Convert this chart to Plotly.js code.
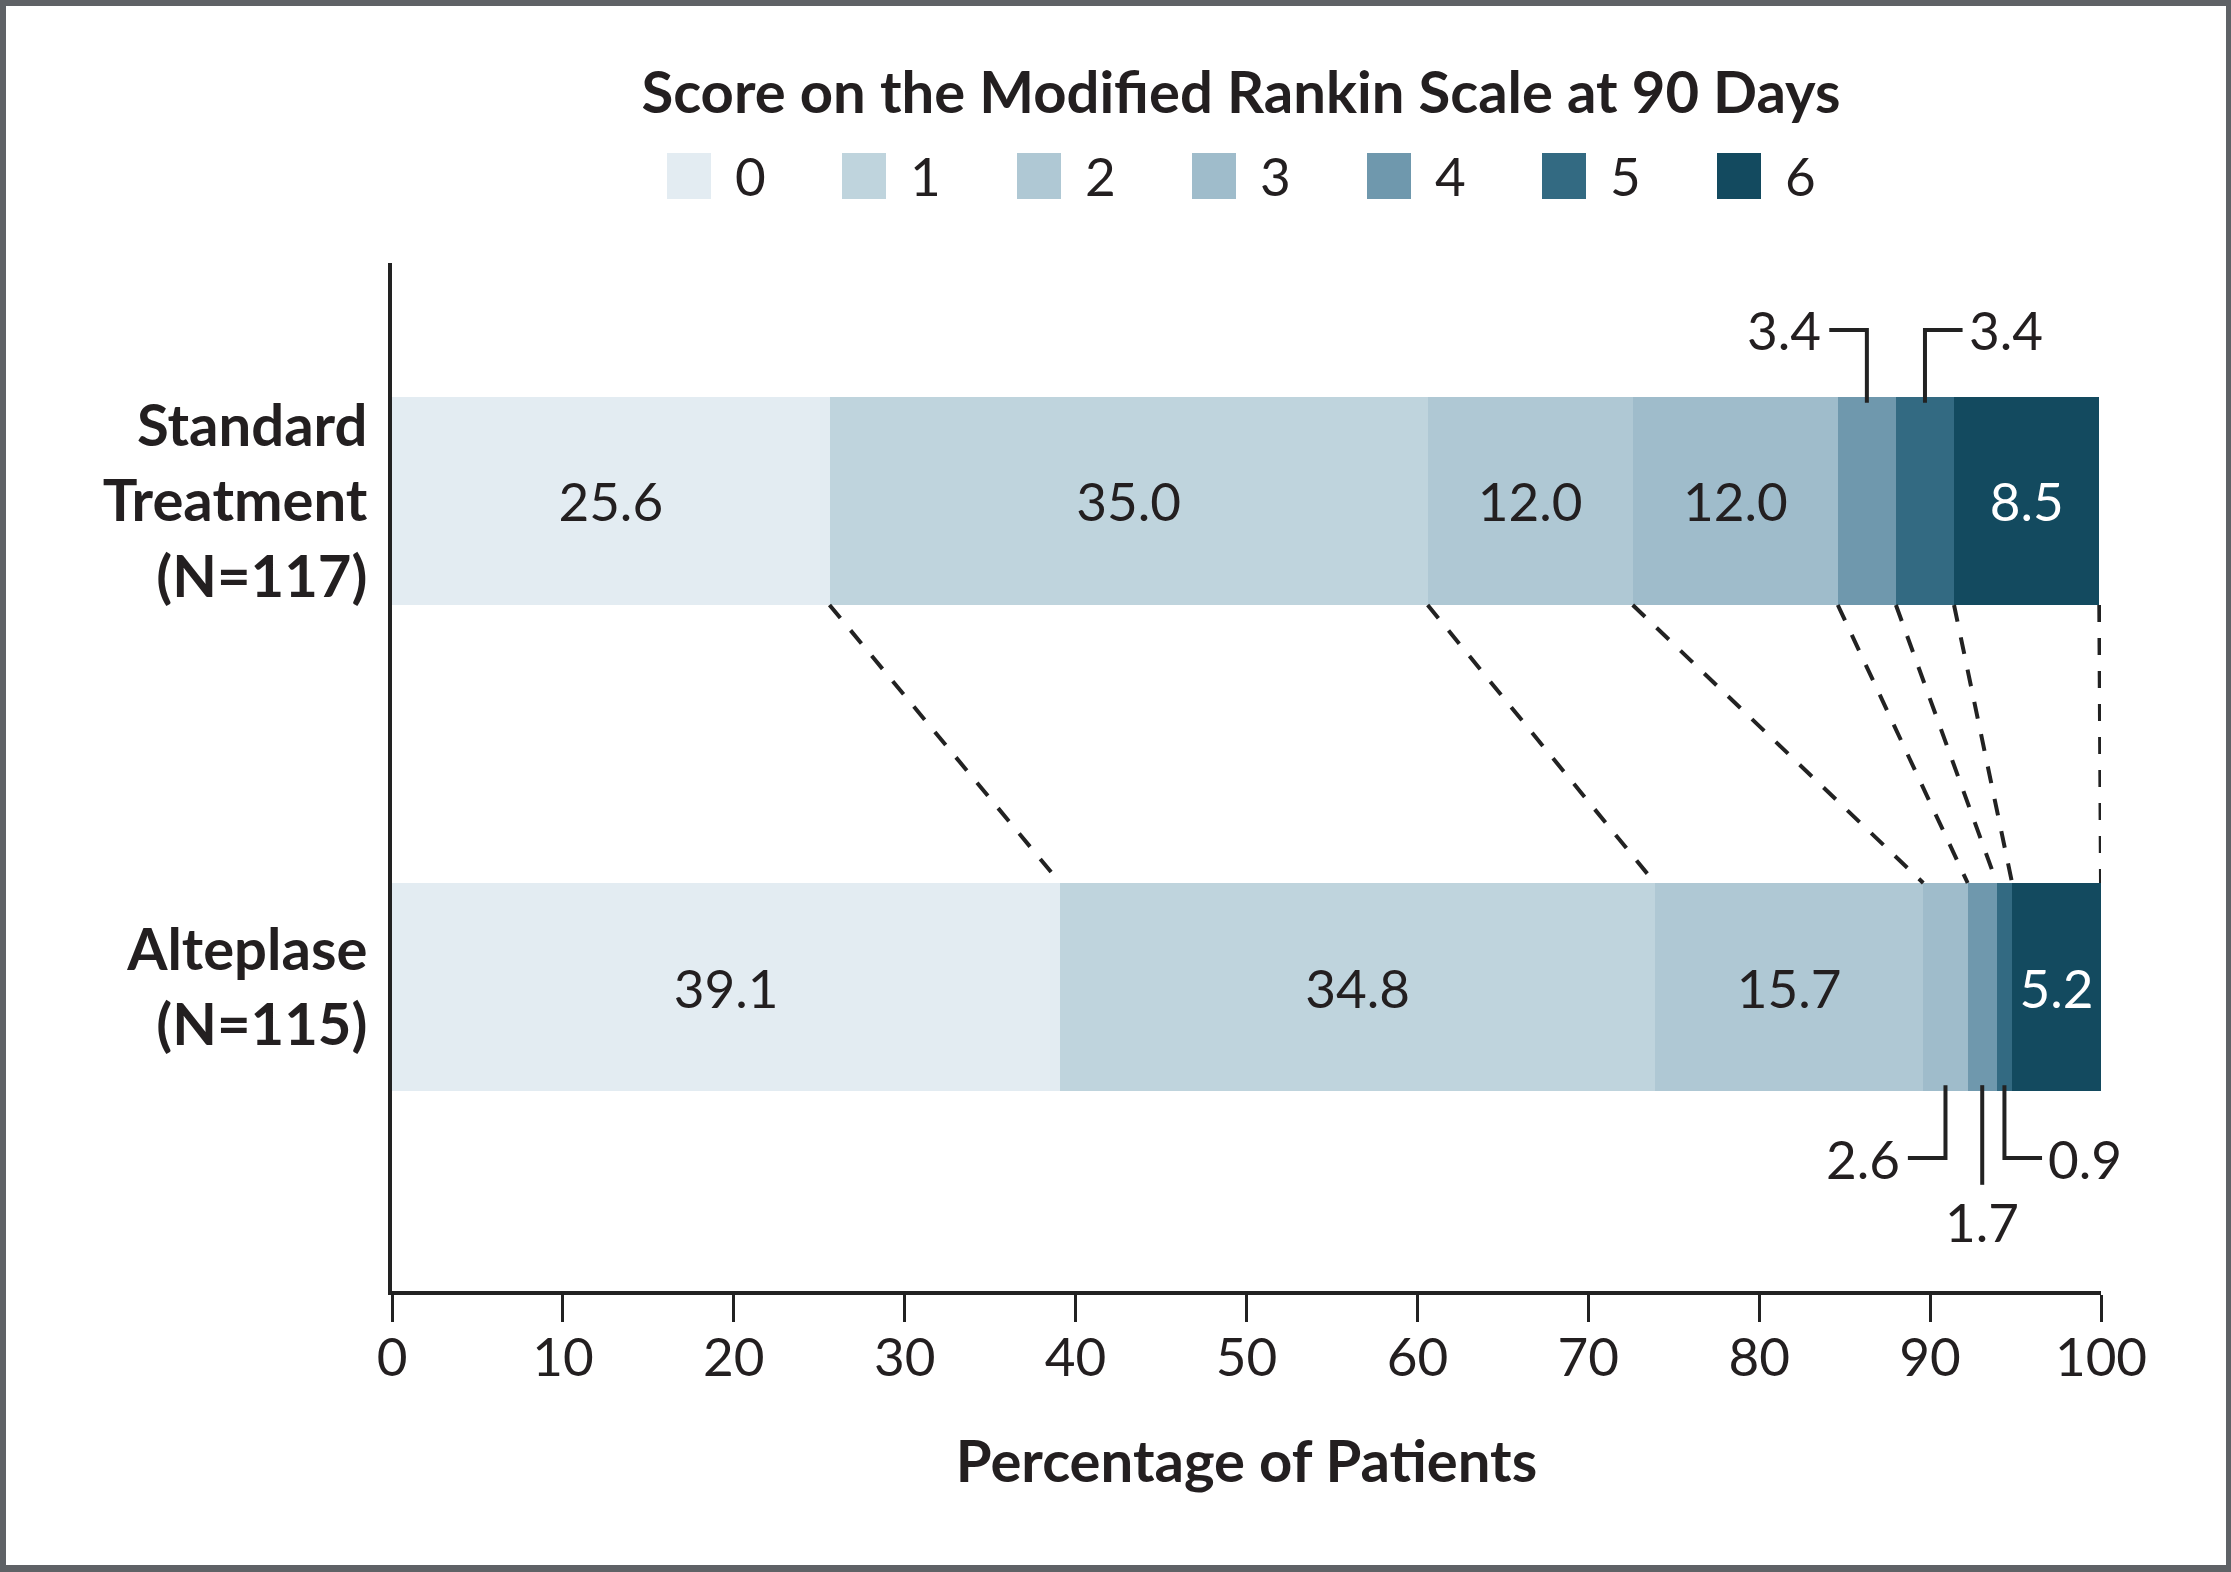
<!DOCTYPE html>
<html>
<head>
<meta charset="utf-8">
<script src="https://cdn.plot.ly/plotly-3.0.1.min.js"></script>
<style>
  html, body { margin: 0; padding: 0; background: #ffffff; }
  #wrap { position: relative; width: 2231px; height: 1572px; }
  #chart { position: absolute; left: 0; top: 0; width: 2231px; height: 1572px; }
  #frame {
    position: absolute; left: 0; top: 0; width: 2231px; height: 1572px;
    box-sizing: border-box; pointer-events: none;
    border-style: solid; border-color: #5f6266;
    border-width: 6px 5px 7px 6px;
  }
</style>
</head>
<body>
<div id="wrap"><div id="chart"></div><div id="frame"></div></div>
<script>
// ---- data ----
const groups = ['Standard<br>Treatment<br>(N=117)', 'Alteplase<br>(N=115)'];
const scores = ['0', '1', '2', '3', '4', '5', '6'];
const standard = [25.6, 35.0, 12.0, 12.0, 3.4, 3.4, 8.5];
const alteplase = [39.1, 34.8, 15.7, 2.6, 1.7, 0.9, 5.2];
const xTicks = [0, 10, 20, 30, 40, 50, 60, 70, 80, 90, 100];

// ---- styling ----
const FONT = 'Lato, "Open Sans", sans-serif';
const INK = '#231f20';
const colors = ['#e3ecf2', '#bfd4dd', '#afc8d4', '#9fbccb', '#6f98ad', '#336a82', '#134a5f'];
const textColors = [INK, INK, INK, INK, '#ffffff', '#ffffff', '#ffffff'];
const rowY = [1, 0];          // Standard on top, Alteplase below
const BAR_W = 0.428;
const HALF = BAR_W / 2;
const INSIDE_MIN = 5;          // smaller segments get a leader label instead

// plot box in pixels
const L = 392, R = 130, T = 263, B = 281;
const W = 2231, H = 1572;
const PW = W - L - R, PH = H - T - B;
const pxX = px => (px - L) / PW;
const pxY = py => (H - B - py) / PH;

const cum = arr => { let s = 0; return arr.map(v => +(s += v).toFixed(1)); };
const cumStd = cum(standard);
const cumAlt = cum(alteplase);
const series = [standard, alteplase];
const cums = [cumStd, cumAlt];

// ---- bars ----
const traces = scores.map((s, i) => ({
  type: 'bar',
  orientation: 'h',
  name: s,
  y: rowY,
  x: [standard[i], alteplase[i]],
  width: BAR_W,
  marker: { color: colors[i], line: { width: 0 } },
  text: [standard[i], alteplase[i]].map(v => v >= INSIDE_MIN ? v.toFixed(1) : ''),
  textposition: 'inside',
  insidetextanchor: 'middle',
  textangle: 0,
  constraintext: 'none',
  textfont: { family: FONT, size: 53, color: textColors[i] },
  hoverinfo: 'skip',
  showlegend: false
}));

const shapes = [];
const annotations = [];

// dashed connectors between matching category boundaries
for (let k = 0; k < scores.length; k++) {
  shapes.push({
    type: 'line', xref: 'x', yref: 'y',
    x0: cumStd[k], y0: rowY[0] - HALF,
    x1: cumAlt[k], y1: rowY[1] + HALF,
    line: { color: '#222222', width: 4, dash: '17px,16px' }
  });
}

// leader labels for narrow segments
const leaders = [
  { row: 0, seg: 4, side: 'left' },
  { row: 0, seg: 5, side: 'right' },
  { row: 1, seg: 3, side: 'left' },
  { row: 1, seg: 4, side: 'down' },
  { row: 1, seg: 5, side: 'right' }
];
const HOOK = 2.2;       // horizontal hook length, x units
const RISE = 0.352;     // elbow distance from bar centre, y units
leaders.forEach(ld => {
  const vals = series[ld.row], c = cums[ld.row];
  const xc = c[ld.seg] - vals[ld.seg] / 2;
  const dir = ld.row === 0 ? 1 : -1;           // above the top bar, below the bottom bar
  const yc = rowY[ld.row];
  const yStart = yc + dir * (HALF - 0.012);
  const label = vals[ld.seg].toFixed(1);
  const line = { color: '#222222', width: 4 };
  if (ld.side === 'down') {
    const yEnd = yc + dir * 0.407;
    shapes.push({ type: 'path', xref: 'x', yref: 'y',
      path: `M${xc},${yStart} L${xc},${yEnd}`, line });
    annotations.push({ x: xc, y: yc + dir * 0.4835, xref: 'x', yref: 'y',
      text: label, showarrow: false, xanchor: 'center', yanchor: 'middle',
      font: { family: FONT, size: 53, color: INK } });
  } else {
    const yElbow = yc + dir * RISE;
    const xEnd = xc + (ld.side === 'left' ? -HOOK : HOOK);
    shapes.push({ type: 'path', xref: 'x', yref: 'y',
      path: `M${xc},${yStart} L${xc},${yElbow} L${xEnd},${yElbow}`, line });
    annotations.push({ x: xEnd, y: yElbow, xref: 'x', yref: 'y',
      text: label, showarrow: false,
      xanchor: ld.side === 'left' ? 'right' : 'left', yanchor: 'middle',
      xshift: ld.side === 'left' ? -6 : 4,
      font: { family: FONT, size: 53, color: INK } });
  }
});

// legend swatches and labels
scores.forEach((s, i) => {
  const x0 = 667 + 175 * i;
  shapes.push({ type: 'rect', xref: 'paper', yref: 'paper',
    x0: pxX(x0), x1: pxX(x0 + 44), y0: pxY(199), y1: pxY(153),
    fillcolor: colors[i], line: { width: 0 } });
  annotations.push({ xref: 'paper', yref: 'paper', x: pxX(x0 + 66), y: pxY(175),
    text: s, showarrow: false, xanchor: 'left', yanchor: 'middle',
    font: { family: FONT, size: 53, color: INK } });
});

const layout = {
  width: W, height: H,
  margin: { l: L, r: R, t: T, b: B, pad: 0 },
  paper_bgcolor: '#ffffff', plot_bgcolor: '#ffffff',
  barmode: 'stack',
  bargap: 0,
  title: {
    text: 'Score on the Modified Rankin Scale at 90 Days',
    font: { family: FONT, size: 58, color: INK, weight: 700 },
    x: 1241 / W, xref: 'container', xanchor: 'center',
    y: 1 - 93 / H, yref: 'container', yanchor: 'middle'
  },
  xaxis: {
    range: [0, 100], tickvals: xTicks, ticktext: xTicks.map(String),
    showgrid: false, zeroline: false,
    showline: true, linecolor: '#222222', linewidth: 4,
    ticks: 'outside', ticklen: 27, tickwidth: 3, tickcolor: '#222222',
    ticklabelstandoff: -10,
    tickfont: { family: FONT, size: 53, color: INK },
    title: { text: 'Percentage of Patients', standoff: 57,
      font: { family: FONT, size: 58, color: INK, weight: 700 } },
    fixedrange: true
  },
  yaxis: {
    range: [-0.6255, 1.4897],
    tickvals: rowY, ticktext: groups,
    showgrid: false, zeroline: false,
    showline: true, linecolor: '#222222', linewidth: 4,
    ticks: '', ticklabelstandoff: 9,
    tickfont: { family: FONT, size: 58, color: INK, weight: 700 },
    fixedrange: true
  },
  shapes, annotations,
  showlegend: false
};

Plotly.newPlot('chart', traces, layout, { staticPlot: true, displayModeBar: false });
</script>
</body>
</html>
